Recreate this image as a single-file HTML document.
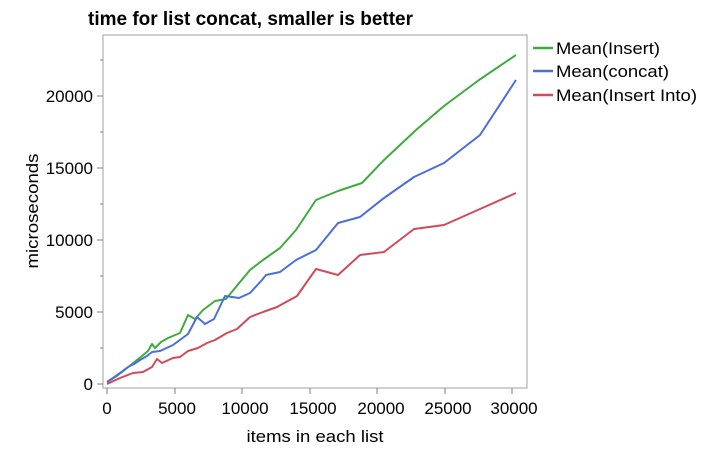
<!DOCTYPE html>
<html><head><style>body{margin:0;background:#fff}</style></head><body>
<svg width="726" height="451" xmlns="http://www.w3.org/2000/svg" font-family="'Liberation Sans',sans-serif">
<rect width="726" height="451" fill="#fff"/>
<text x="88" y="25" font-size="19" font-weight="bold" fill="#000" textLength="325" lengthAdjust="spacingAndGlyphs">time for list concat, smaller is better</text>
<rect x="103" y="35" width="424" height="353" fill="none" stroke="#a0a0a0" stroke-width="1"/>
<g stroke="#808080" stroke-width="1">
<line x1="97" y1="384" x2="103" y2="384"/><line x1="97" y1="312" x2="103" y2="312"/><line x1="97" y1="240" x2="103" y2="240"/><line x1="97" y1="168" x2="103" y2="168"/><line x1="97" y1="96" x2="103" y2="96"/>
<line x1="100" y1="348" x2="103" y2="348"/><line x1="100" y1="276" x2="103" y2="276"/><line x1="100" y1="204" x2="103" y2="204"/><line x1="100" y1="132" x2="103" y2="132"/><line x1="100" y1="60" x2="103" y2="60"/>
<line x1="107" y1="388" x2="107" y2="394"/><line x1="175" y1="388" x2="175" y2="394"/><line x1="242" y1="388" x2="242" y2="394"/><line x1="310" y1="388" x2="310" y2="394"/><line x1="377" y1="388" x2="377" y2="394"/><line x1="445" y1="388" x2="445" y2="394"/><line x1="512" y1="388" x2="512" y2="394"/>
</g>
<g font-size="17" fill="#000" text-anchor="end">
<text x="93" y="390">0</text><text x="93" y="318">5000</text><text x="93" y="246">10000</text><text x="93" y="174">15000</text><text x="93" y="102">20000</text>
</g>
<g font-size="17" fill="#000" text-anchor="middle">
<text x="107" y="414">0</text><text x="177" y="414">5000</text><text x="245" y="414">10000</text><text x="313" y="414">15000</text><text x="381" y="414">20000</text><text x="448" y="414">25000</text><text x="514" y="414">30000</text>
<text x="315" y="442" textLength="137" lengthAdjust="spacingAndGlyphs">items in each list</text>
<text transform="translate(38,211) rotate(-90)" textLength="115" lengthAdjust="spacingAndGlyphs">microseconds</text>
</g>
<g fill="none" stroke-width="2" stroke-linejoin="round">
<polyline stroke="#3fab3f" points="107,382 112,379 118,375 122,372 127,368 132,364 137,360 142,356 148,351 152,344 155,348 161,342 168,338 180,333 188,315 195,319 203,310 215,301 226,299 240,282 250,270 263,260 280,248 296,230 316,200 338,191 362,183 384,160 416,130 444,106 479,80 516,55"/>
<polyline stroke="#4a6fdc" points="107,382 113,378 120,373 128,367 134,364 140,360 147,356 152,352 160,351 173,345 188,334 197,317 205,324 214,319 225,296 239,298 250,293 262,280 266,275 280,272 296,260 316,250 338,223 360,217 384,198 414,177 444,163 480,135 516,80"/>
<polyline stroke="#d24a5a" points="107,384 120,378 133,373 143,372 152,367 157,359 162,363 173,358 180,357 188,351 198,348 207,343 215,340 227,333 237,329 250,317 263,312 277,307 297,296 316,269 338,275 360,255 384,252 414,229 444,225 480,209 516,193"/>
</g>
<g stroke-width="2.5">
<line x1="533" y1="48" x2="553" y2="48" stroke="#3fab3f"/>
<line x1="533" y1="71" x2="553" y2="71" stroke="#4a6fdc"/>
<line x1="533" y1="95" x2="553" y2="95" stroke="#d24a5a"/>
</g>
<g font-size="17" fill="#000">
<text x="556" y="54" textLength="104" lengthAdjust="spacingAndGlyphs">Mean(Insert)</text>
<text x="556" y="77" textLength="113" lengthAdjust="spacingAndGlyphs">Mean(concat)</text>
<text x="556" y="101" textLength="141" lengthAdjust="spacingAndGlyphs">Mean(Insert Into)</text>
</g>
</svg>
</body></html>
